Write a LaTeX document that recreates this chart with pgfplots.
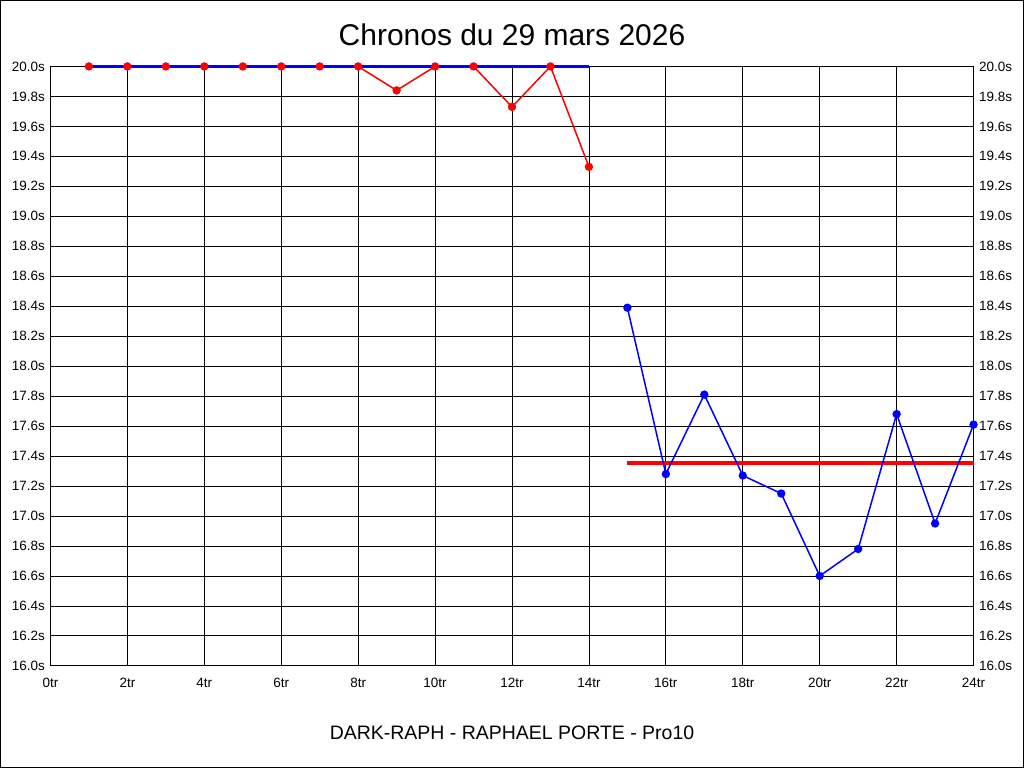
\documentclass[border=0pt]{standalone}
\usepackage{pgfplots}
\pgfplotsset{compat=1.18}
\usepackage{fontspec}
\setmainfont{Liberation Sans}

% lap times
\pgfplotstableread{
lap t
1 20.0
2 20.0
3 20.0
4 20.0
5 20.0
6 20.0
7 20.0
8 20.0
9 19.84
10 20.0
11 20.0
12 19.73
13 20.0
14 19.33
}\redlaps
\pgfplotstableread{
lap t
15 18.39
16 17.28
17 17.81
18 17.27
19 17.15
20 16.60
21 16.78
22 17.68
23 16.95
24 17.61
}\bluelaps

\pgfplotsset{chrono/.style={
    scale only axis, width=924pt, height=600pt,
    xmin=0, xmax=24, ymin=16, ymax=20,
    xtick={0,2,...,24}, ytick={16,16.2,...,20.01},
    /pgf/number format/assume math mode=true,
    tick style={draw=none},
    ticklabel style={font=\fontsize{13.5}{14}\selectfont},
}}

\begin{document}
\begin{tikzpicture}
\begin{axis}[chrono, name=main, clip=false,
    grid=major, grid style={black, line width=0.8pt},
    axis line style={black, line width=0.8pt},
    xticklabel={\pgfmathprintnumber{\tick}tr},
    xticklabel style={anchor=base, yshift=-22pt},
    yticklabel={\pgfmathprintnumber[fixed,precision=1,zerofill]{\tick}s},
    yticklabel style={anchor=east, xshift=-2pt},
    title={Chronos du 29 mars 2026},
    title style={at={(0.5,1)}, anchor=base, yshift=15pt, font=\fontsize{30}{32}\selectfont},
    xlabel={DARK-RAPH - RAPHAEL PORTE - Pro10},
    xlabel style={at={(0.5,0)}, anchor=base, yshift=-74pt, font=\fontsize{19.5}{21}\selectfont},
]
\addplot[red, line width=1.5pt, mark=*, mark size=3.4pt] table {\redlaps};
\addplot[blue, line width=3pt] coordinates {(1,20.0) (14,20.0)};
\addplot[red, only marks, mark=*, mark size=3.4pt] table {\redlaps};
\addplot[red, line width=3.5pt] coordinates {(15,17.353) (24,17.353)};
\addplot[blue, line width=1.5pt, mark=*, mark size=3.4pt] table {\bluelaps};
\end{axis}
\begin{axis}[chrono,
    axis x line=none, axis y line*=right,
    axis line style={draw=none},
    xtick=\empty,
    yticklabel={\pgfmathprintnumber[fixed,precision=1,zerofill]{\tick}s},
    yticklabel style={anchor=west, xshift=2pt},
]
\addplot[draw=none] coordinates {(0,16) (24,20)};
\end{axis}
\draw[black, line width=1pt] ([shift={(-50pt,-102pt)}]main.south west) rectangle ([shift={(50pt,66pt)}]main.north east);
\end{tikzpicture}
\end{document}
